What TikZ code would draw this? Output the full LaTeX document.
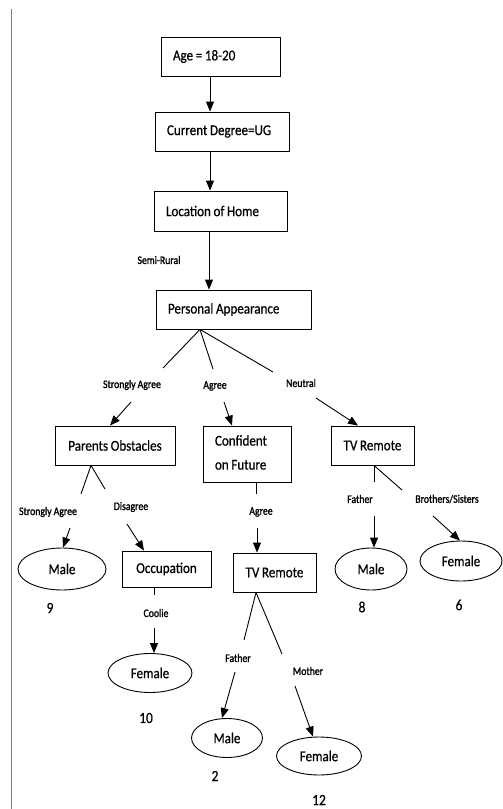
\documentclass[tikz,border=0pt]{standalone}
\usepackage{fontspec}
\setmainfont{Carlito}[FakeStretch=0.87, WordSpace=0.9, FakeBold=0.6]
\newfontfamily\lblfont{Carlito}[FakeStretch=0.85, WordSpace=0.9, FakeBold=1.4]
\usetikzlibrary{arrows.meta,shapes.geometric}
\newcommand\lft[2]{\makebox[#1][l]{#2}}
\tikzset{
  box/.style={draw, line width=0.9pt, inner sep=0pt, font=\fontsize{15}{18}\selectfont},
  lbox/.style={box, inner xsep=12pt},
  oval/.style={draw, ellipse, line width=0.9pt, inner sep=0pt, font=\fontsize{15}{18}\selectfont},
  lbl/.style={font=\lblfont\fontsize{11.5}{13}\selectfont, inner sep=1pt},
  num/.style={font=\fontsize{15.5}{18}\selectfont, inner sep=0pt},
  edge/.style={line width=0.9pt},
  arr/.style={line width=0.9pt, -{Triangle[width=8pt,length=10pt]}}
}
\begin{document}
\begin{tikzpicture}[x=1pt,y=-1pt]
\useasboundingbox (0,0) rectangle (503,809);
\draw[gray, line width=0.8pt] (11,9) -- (11,809);

% boxes
\node[lbox, minimum width=119, minimum height=39] (age) at (220.5,56.5) {\lft{95pt}{Age = 18-20}};
\node[lbox, minimum width=134, minimum height=39] (cd) at (222,131.5) {\lft{110pt}{Current Degree=UG}};
\node[lbox, minimum width=133, minimum height=40] (loc) at (220.5,211) {\lft{109pt}{Location of Home}};
\node[lbox, minimum width=155, minimum height=39] (pa) at (233.5,309.5) {\lft{131pt}{Personal Appearance}};
\node[box, minimum width=120, minimum height=39] (po) at (115,445.5) {Parents Obstacles};
\node[lbox, minimum width=88, minimum height=56] (cf) at (247,454) {\lft{64pt}{\begin{tabular}{@{}l@{}}Confident\\[6pt]on Future\end{tabular}}};
\node[box, minimum width=83, minimum height=39] (tv1) at (372.5,445.5) {TV Remote};
\node[box, minimum width=89, minimum height=36] (occ) at (166.5,569) {Occupation};
\node[box, minimum width=83, minimum height=39] (tv2) at (274.5,572.5) {TV Remote};

% ellipses
\node[oval, minimum width=88, minimum height=42] (m1) at (62,569) {Male};
\node[oval, minimum width=72, minimum height=42] (m2) at (371,569) {Male};
\node[oval, minimum width=82, minimum height=40] (f1) at (461,561) {Female};
\node[oval, minimum width=84, minimum height=39] (f2) at (150,673) {Female};
\node[oval, minimum width=71, minimum height=39] (m3) at (227,738) {Male};
\node[oval, minimum width=85, minimum height=38] (f3) at (319,756) {Female};

% numbers
\node[num] (n9) at (50,608) {9};
\node[num] (n8) at (362,607) {8};
\node[num] (n6) at (459,605) {6};
\node[num] (n10) at (146,718) {10};
\node[num] (n2) at (215,776) {2};
\node[num] (n12) at (319,800) {12};

% labels
\node[lbl] (lsr) at (159,260) {Semi-Rural};
\node[lbl] (lsa1) at (132,385) {Strongly Agree};
\node[lbl] (lag1) at (215,386) {Agree};
\node[lbl] (lne) at (301,383) {Neutral};
\node[lbl] (lsa2) at (48,512) {Strongly Agree};
\node[lbl] (ldis) at (131,507) {Disagree};
\node[lbl] (lag2) at (261,512) {Agree};
\node[lbl] (lco) at (156,613) {Coolie};
\node[lbl] (lfa1) at (360,499) {Father};
\node[lbl] (lbs) at (447,499) {Brothers/Sisters};
\node[lbl] (lfa2) at (238,658) {Father};
\node[lbl] (lmo) at (308,671) {Mother};

% break coordinates
\coordinate (pa1) at (163,368); \coordinate (pa1b) at (131,402);
\coordinate (pa2) at (213,369); \coordinate (pa2b) at (224,402);
\coordinate (pa3) at (273,372); \coordinate (pa3b) at (316,398);
\coordinate (po1) at (81,494);  \coordinate (po1b) at (70,528);
\coordinate (po2) at (105,489); \coordinate (po2b) at (127,524);
\coordinate (cf1) at (256,494); \coordinate (cf1b) at (257,528);
\coordinate (oc1) at (154,595); \coordinate (oc1b) at (154,628);
\coordinate (tv21) at (244,640); \coordinate (tv21b) at (235,672);
\coordinate (tv22) at (282,654); \coordinate (tv22b) at (295,686);
\coordinate (tv11) at (374,482); \coordinate (tv11b) at (374,516);
\coordinate (tv12) at (402,490); \coordinate (tv12b) at (433,516);

% connectors
\draw[arr] ([xshift=-10.5]age.south) -- ([xshift=-12]cd.north);
\draw[arr] ([xshift=-12]cd.south) -- ([xshift=-10.5]loc.north);
\draw[arr] ([xshift=-11.5]loc.south) -- ([xshift=-24.5]pa.north);

\draw[edge] ([xshift=-33.5]pa.south) -- (pa1);
\draw[edge] ([xshift=-33.5]pa.south) -- (pa2);
\draw[edge] ([xshift=-33.5]pa.south) -- (pa3);
\draw[arr] (pa1b) -- ([xshift=-5]po.north);
\draw[arr] (pa2b) -- ([xshift=-15]cf.north);
\draw[arr] (pa3b) -- ([xshift=-14.5]tv1.north);

\draw[edge] ([xshift=-24]po.south) -- (po1);
\draw[edge] ([xshift=-24]po.south) -- (po2);
\draw[arr] (po1b) -- ([xshift=1]m1.north);
\draw[arr] (po2b) -- ([xshift=-22.5]occ.north);

\draw[edge] ([xshift=9]cf.south) -- (cf1);
\draw[arr] (cf1b) -- ([xshift=-17.5]tv2.north);

\draw[edge] ([xshift=-12.5]occ.south) -- (oc1);
\draw[arr] (oc1b) -- ([xshift=4]f2.north);

\draw[edge] ([xshift=-18.5]tv2.south) -- (tv21);
\draw[edge] ([xshift=-18.5]tv2.south) -- (tv22);
\draw[arr] (tv21b) -- ([xshift=-5]m3.north);
\draw[arr] (tv22b) -- ([xshift=-6]f3.north);

\draw[edge] ([xshift=1.5]tv1.south) -- (tv11);
\draw[edge] ([xshift=1.5]tv1.south) -- (tv12);
\draw[arr] (tv11b) -- ([xshift=3]m2.north);
\draw[arr] (tv12b) -- ([xshift=-1]f1.north);
\end{tikzpicture}
\end{document}
